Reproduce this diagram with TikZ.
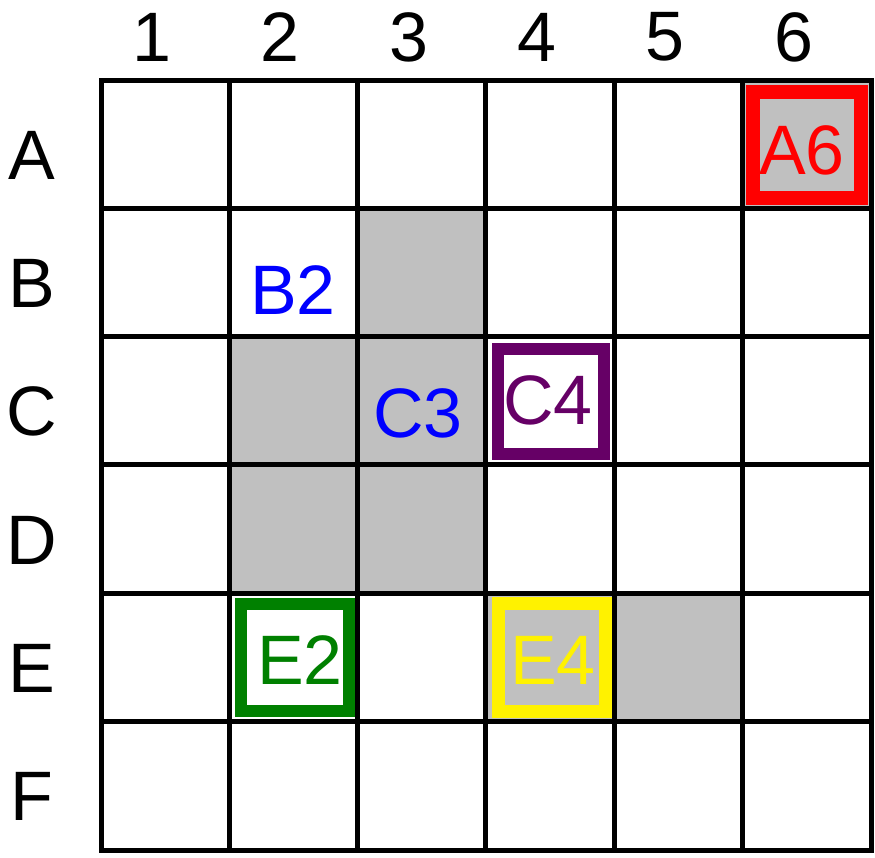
\documentclass[tikz,border=0pt]{standalone}
\usepackage{fontspec}
\setmainfont{Liberation Sans}
\definecolor{cellgray}{RGB}{192,192,192}
\definecolor{plum}{RGB}{102,0,102}
\definecolor{leafgreen}{RGB}{0,128,0}

\begin{document}
\begin{tikzpicture}[x=1pt,y=-1pt,
  lbl/.style={inner sep=0pt,font=\fontsize{70}{70}\selectfont},
  gridline/.style={line width=5pt}]
\useasboundingbox (0,0) rectangle (875,857);
% shaded cells (row/column, from 0)
\foreach \r/\c in {0/5,1/2,2/1,2/2,3/1,3/2,4/3,4/4}
  \fill[cellgray] ({101+128.33*\c},{80+128.33*\r}) rectangle +(128.33,128.33);
% the board
\foreach \i in {1,...,5} {
  \draw[gridline] ({101+128.33*\i},80) -- ++(0,770);
  \draw[gridline] (101,{80+128.33*\i}) -- ++(770,0);
}
\draw[gridline] (101,80) rectangle (871,850);
% headings
\foreach \n [count=\k from 0] in {1,...,6}
  \node[lbl] (col\n) at ({152+128.33*\k},37) {\n};
\foreach \l [count=\k from 0] in {A,B,C,D,E,F}
  \node[lbl] (row\l) at (32,{155+128.33*\k}) {\l};
% marked squares
\draw[red,line width=14pt] (753,92) rectangle (861,198);
\draw[plum,line width=12pt] (498,349) rectangle (604,454);
\draw[leafgreen,line width=12pt] (241,604) rectangle (349,711);
\draw[yellow,line width=13pt] (498.5,603.5) rectangle (605.5,711.5);
\node[lbl,red] (A6) at (802,150) {A6};
\node[lbl,blue] (B2) at (293,290) {B2};
\node[lbl,blue] (C3) at (418,413) {C3};
\node[lbl,plum] (C4) at (548,400) {C4};
\node[lbl,leafgreen] (E2) at (300,660) {E2};
\node[lbl,yellow] (E4) at (553,660) {E4};
\end{tikzpicture}
\end{document}
